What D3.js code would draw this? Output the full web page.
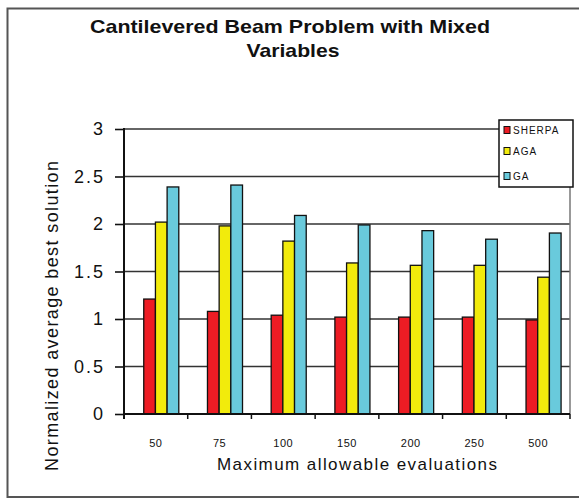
<!DOCTYPE html>
<html><head><meta charset="utf-8">
<script src="https://cdn.jsdelivr.net/npm/d3@7"></script>
<style>body{margin:0;background:#fff}svg{display:block;font-family:"Liberation Sans",Arial,sans-serif}</style>
</head><body>
<script>
const categories = ["50","75","100","150","200","250","500"];
const seriesNames = ["SHERPA","AGA","GA"];
const sherpa = [1.21,1.08,1.04,1.02,1.02,1.02,0.99];
const aga = [2.02,1.98,1.82,1.59,1.565,1.565,1.44];
const ga = [2.39,2.41,2.09,1.99,1.93,1.84,1.905];
const yTicks = [0,0.5,1,1.5,2,2.5,3];
const colors = ["#ED1C24","#F2EB0C","#69CADC"];
const series = [sherpa, aga, ga];

const W=579,H=498;
const svg=d3.select("body").append("svg").attr("width",W).attr("height",H);
// outer frame
svg.append("rect").attr("x",7.5).attr("y",8.5).attr("width",640).attr("height",488.5)
  .attr("fill","none").attr("stroke","#555").attr("stroke-width",2);

const pL=124,pR=570,pT=129,pB=414;
const x=d3.scaleBand().domain(categories).range([pL,pR]).padding(0);
const bw=x.bandwidth();
const xs=d3.scaleBand().domain(seriesNames).range([bw*0.31,bw*0.86]).padding(0);
const y=d3.scaleLinear().domain([0,3]).range([pB,pT]);

// gridlines
svg.append("g").selectAll("line").data(yTicks.filter(d=>d>0)).join("line")
  .attr("x1",pL).attr("x2",pR).attr("y1",d=>y(d)).attr("y2",d=>y(d))
  .attr("stroke","#333").attr("stroke-width",1.6);
// right border
svg.append("line").attr("x1",pR).attr("x2",pR).attr("y1",pT).attr("y2",pB)
  .attr("stroke","#777").attr("stroke-width",1.5);

// bars
const g=svg.append("g");
series.forEach((vals,si)=>{
  g.append("g").selectAll("rect").data(vals).join("rect")
    .attr("x",(d,i)=>x(categories[i])+xs(seriesNames[si]))
    .attr("width",xs.bandwidth())
    .attr("y",d=>y(d)).attr("height",d=>pB-y(d))
    .attr("fill",colors[si]).attr("stroke","#111").attr("stroke-width",1.3);
});

// y axis
const ya=svg.append("g").attr("transform",`translate(${pL},0)`)
  .call(d3.axisLeft(y).tickValues(yTicks).tickFormat(d3.format("")).tickSize(9).tickPadding(12));
ya.select(".domain").remove();
ya.selectAll("line").attr("stroke","#111").attr("stroke-width",1.6);
ya.selectAll("text").attr("font-size",18).attr("fill","#111")
  .attr("font-family","Liberation Sans, Arial, sans-serif").style("letter-spacing","2px").attr("dx","2");
svg.append("line").attr("x1",pL).attr("x2",pL).attr("y1",pT-1).attr("y2",pB+5)
  .attr("stroke","#111").attr("stroke-width",2);

// x axis
const xa=svg.append("g").attr("transform",`translate(0,${pB})`)
  .call(d3.axisBottom(x).tickSize(0).tickPadding(25));
xa.select(".domain").remove();
xa.selectAll("text").attr("font-size",11).attr("fill","#111")
  .attr("font-family","Liberation Sans, Arial, sans-serif").style("letter-spacing","0.5px");
svg.append("g").selectAll("line").data(categories).join("line")
  .attr("x1",d=>x(d)+bw).attr("x2",d=>x(d)+bw).attr("y1",pB).attr("y2",pB+5)
  .attr("stroke","#111").attr("stroke-width",1.5);
svg.append("line").attr("x1",pL-1).attr("x2",pR).attr("y1",pB).attr("y2",pB)
  .attr("stroke","#111").attr("stroke-width",2);

// titles
svg.append("text").attr("x",290).attr("y",33).attr("text-anchor","middle")
  .attr("font-size",19).attr("font-weight","bold").attr("fill","#111")
  .attr("textLength",400).attr("lengthAdjust","spacingAndGlyphs")
  .text("Cantilevered Beam Problem with Mixed");
svg.append("text").attr("x",293).attr("y",57).attr("text-anchor","middle")
  .attr("font-size",19).attr("font-weight","bold").attr("fill","#111")
  .attr("textLength",93).attr("lengthAdjust","spacingAndGlyphs")
  .text("Variables");
svg.append("text").attr("transform","translate(58,316) rotate(-90)").attr("text-anchor","middle")
  .attr("font-size",18).attr("fill","#111").attr("textLength",310).attr("lengthAdjust","spacing")
  .text("Normalized average best solution");
svg.append("text").attr("x",357).attr("y",470).attr("text-anchor","middle")
  .attr("font-size",17).attr("fill","#111").attr("textLength",280).attr("lengthAdjust","spacing")
  .text("Maximum allowable evaluations");

// legend
const lg=svg.append("g");
lg.append("rect").attr("x",499).attr("y",120).attr("width",74).attr("height",67)
  .attr("fill","#fff").attr("stroke","#111").attr("stroke-width",1.5);
const ly=[130,151,176];
seriesNames.forEach((n,i)=>{
  lg.append("rect").attr("x",504).attr("y",ly[i]-3.5).attr("width",6).attr("height",7)
    .attr("fill",colors[i]).attr("stroke","#111").attr("stroke-width",1);
  lg.append("text").attr("x",513).attr("y",ly[i]+4).attr("font-size",10).attr("fill","#111")
    .style("letter-spacing","1px").text(n);
});
</script>
</body></html>
